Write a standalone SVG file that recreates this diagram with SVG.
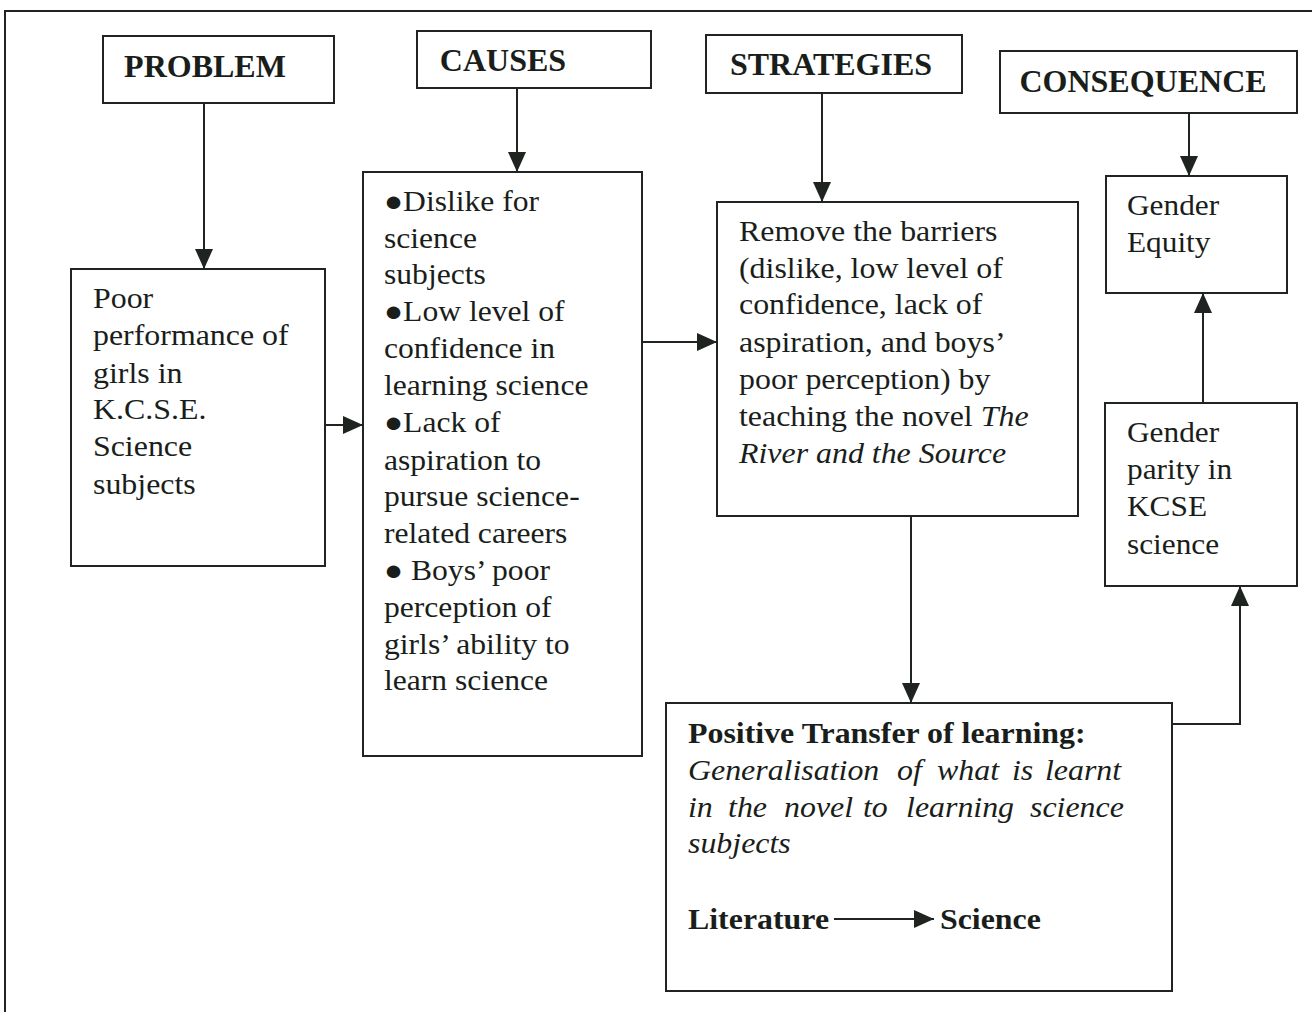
<svg xmlns="http://www.w3.org/2000/svg" width="1312" height="1014" viewBox="0 0 1312 1014">
<style>
.box{fill:none;stroke:#1f2421;stroke-width:2}
.ln{fill:none;stroke:#1f2421;stroke-width:2}
text{font-family:"Liberation Serif","Times New Roman",serif;fill:#1a1e1b}
.hd{font-size:32px;font-weight:bold}
.t{font-size:29px}
.i{font-style:italic}
.b{font-weight:bold}
</style>
<defs>
<marker id="ah" markerUnits="userSpaceOnUse" markerWidth="20" markerHeight="18" viewBox="0 0 20 18" refX="20" refY="9" orient="auto">
<path d="M0,0 L20,9 L0,18 Z" fill="#1f2421"/>
</marker>
</defs>
<rect width="1312" height="1014" fill="#ffffff"/>
<path class="ln" d="M5,1012 L5,11 L1320,11" stroke-width="2.5"/>
<g id="problem"><rect class="box" x="103" y="36" width="231" height="67"/><text class="hd" x="205" y="77" text-anchor="middle">PROBLEM</text></g>
<g id="causes"><rect class="box" x="417" y="31" width="234" height="57"/><text class="hd" x="503" y="71" text-anchor="middle">CAUSES</text></g>
<g id="strategies"><rect class="box" x="706" y="35" width="256" height="58"/><text class="hd" x="831" y="75" text-anchor="middle">STRATEGIES</text></g>
<g id="consequence"><rect class="box" x="1000" y="51" width="297" height="62"/><text class="hd" x="1143" y="92" text-anchor="middle">CONSEQUENCE</text></g>
<g id="poor"><rect class="box" x="71" y="269" width="254" height="297"/>
<text class="t" transform="matrix(1.1,0,0,1,-9.3,0)"><tspan x="93" y="308">Poor</tspan><tspan x="93" y="345">performance of</tspan><tspan x="93" y="383">girls in</tspan><tspan x="93" y="419">K.C.S.E.</tspan><tspan x="93" y="456">Science</tspan><tspan x="93" y="494">subjects</tspan></text></g>
<g id="causeslist"><rect class="box" x="363" y="172" width="279" height="584"/>
<text class="t" transform="matrix(1.09,0,0,1,-34.56,0)"><tspan x="384" y="211">●Dislike for</tspan><tspan x="384" y="248">science</tspan><tspan x="384" y="284">subjects</tspan><tspan x="384" y="321">●Low level of</tspan><tspan x="384" y="358">confidence in</tspan><tspan x="384" y="395">learning science</tspan><tspan x="384" y="432">●Lack of</tspan><tspan x="384" y="470">aspiration to</tspan><tspan x="384" y="506">pursue science-</tspan><tspan x="384" y="543">related careers</tspan><tspan x="384" y="580">● Boys’ poor</tspan><tspan x="384" y="617">perception of</tspan><tspan x="384" y="654">girls’ ability to</tspan><tspan x="384" y="690">learn science</tspan></text></g>
<g id="remove"><rect class="box" x="717" y="202" width="361" height="314"/>
<text class="t" transform="matrix(1.1,0,0,1,-73.9,0)"><tspan x="739" y="241">Remove the barriers</tspan><tspan x="739" y="278">(dislike, low level of</tspan><tspan x="739" y="314">confidence, lack of</tspan><tspan x="739" y="352">aspiration, and boys’</tspan><tspan x="739" y="389">poor perception) by</tspan><tspan x="739" y="426">teaching the novel <tspan class="i">The</tspan></tspan><tspan x="739" y="463" class="i">River and the Source</tspan></text></g>
<g id="equity"><rect class="box" x="1106" y="176" width="181" height="117"/>
<text class="t" transform="matrix(1.08,0,0,1,-90.16,0)"><tspan x="1127" y="215">Gender</tspan><tspan x="1127" y="252">Equity</tspan></text></g>
<g id="parity"><rect class="box" x="1105" y="403" width="192" height="183"/>
<text class="t" transform="matrix(1.08,0,0,1,-90.16,0)"><tspan x="1127" y="442">Gender</tspan><tspan x="1127" y="479">parity in</tspan><tspan x="1127" y="516">KCSE</tspan><tspan x="1127" y="554">science</tspan></text></g>
<g id="transfer"><rect class="box" x="666" y="703" width="506" height="288"/>
<g transform="matrix(1.1,0,0,1,-68.8,0)">
<text class="t b" x="688" y="743">Positive Transfer of learning:</text>
<text class="t i" y="780"><tspan x="688">Generalisation</tspan><tspan x="878">of</tspan><tspan x="914.4">what</tspan><tspan x="982.5">is</tspan><tspan x="1012.5">learnt</tspan></text>
<text class="t i" y="817"><tspan x="688">in</tspan><tspan x="724.4">the</tspan><tspan x="775.3">novel</tspan><tspan x="847.1">to</tspan><tspan x="886.2">learning</tspan><tspan x="998.9">science</tspan></text>
<text class="t i" x="688" y="853">subjects</text>
<text class="t b" x="688" y="929">Literature</text>
<text class="t b" x="917" y="929">Science</text>
</g>
<line class="ln" x1="834" y1="919" x2="934" y2="919" marker-end="url(#ah)"/>
</g>
<g id="connectors">
<line class="ln" x1="204" y1="103" x2="204" y2="269" marker-end="url(#ah)"/>
<line class="ln" x1="517" y1="88" x2="517" y2="172" marker-end="url(#ah)"/>
<line class="ln" x1="822" y1="93" x2="822" y2="202" marker-end="url(#ah)"/>
<line class="ln" x1="1189" y1="113" x2="1189" y2="176" marker-end="url(#ah)"/>
<line class="ln" x1="325" y1="425" x2="363" y2="425" marker-end="url(#ah)"/>
<line class="ln" x1="642" y1="342" x2="717" y2="342" marker-end="url(#ah)"/>
<line class="ln" x1="911" y1="516" x2="911" y2="703" marker-end="url(#ah)"/>
<polyline class="ln" points="1172,724 1240,724 1240,586" marker-end="url(#ah)"/>
<line class="ln" x1="1203" y1="403" x2="1203" y2="293" marker-end="url(#ah)"/>
</g>
</svg>
